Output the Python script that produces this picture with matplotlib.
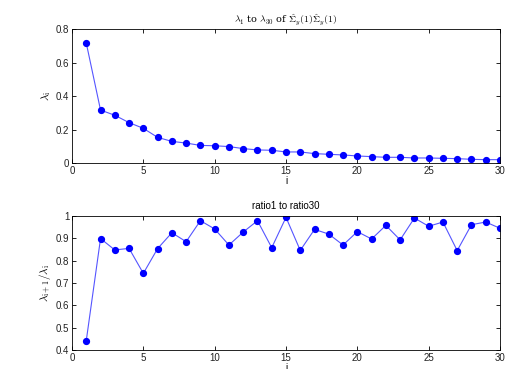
import matplotlib
matplotlib.use("Agg")
import matplotlib.pyplot as plt

idx = list(range(1, 31))
lam = [0.716, 0.316, 0.285, 0.241, 0.207, 0.153, 0.129, 0.119, 0.105, 0.103,
       0.098, 0.086, 0.078, 0.076, 0.066, 0.066, 0.056, 0.052, 0.048, 0.042,
       0.038, 0.034, 0.034, 0.030, 0.030, 0.028, 0.026, 0.022, 0.020, 0.020]
ratio = [0.442, 0.899, 0.848, 0.855, 0.743, 0.854, 0.925, 0.885, 0.979, 0.942,
         0.870, 0.928, 0.979, 0.858, 0.994, 0.846, 0.940, 0.919, 0.870, 0.930,
         0.897, 0.958, 0.893, 0.991, 0.954, 0.973, 0.845, 0.961, 0.973, 0.945]

plt.rcParams['font.family'] = ['Liberation Sans', 'DejaVu Sans']
plt.rcParams['mathtext.fontset'] = 'cm'

fig = plt.figure(figsize=(5.27, 3.69), dpi=100)
W, H = 527, 369
ax1 = fig.add_axes([72/W, 1-163/H, (500-72)/W, (163-29)/H])
ax2 = fig.add_axes([72/W, 1-350/H, (500-72)/W, (350-216)/H])

def style(ax):
    ax.tick_params(direction='in', top=True, right=True, labelsize=7, length=3,
                   width=0.6, pad=2, labelcolor='#222222')
    for s in ax.spines.values():
        s.set_linewidth(0.6)
    ax.set_xlim(0, 30)
    ax.set_xticks(range(0, 31, 5))

ax1.plot(idx, lam, '-', color='#5555ff', lw=0.8)
ax1.plot(idx, lam, 'o', color='blue', ms=4.2, mec='blue')
style(ax1)
ax1.set_ylim(0, 0.8)
ax1.set_yticks([0, 0.2, 0.4, 0.6, 0.8])
ax1.set_yticklabels(['0', '0.2', '0.4', '0.6', '0.8'])
ax1.set_xlabel('i', fontsize=7, labelpad=0)
ax1.set_ylabel(r'$\lambda_{\mathrm{i}}$', fontsize=8, labelpad=2)
ax1.set_title(r'$\lambda_1$ to $\lambda_{30}$ of $\hat{\Sigma}_y(1)\hat{\Sigma}_y(1)$',
              fontsize=7, family='serif', pad=5)

ax2.plot(idx, ratio, '-', color='#5555ff', lw=0.8)
ax2.plot(idx, ratio, 'o', color='blue', ms=4.2, mec='blue')
style(ax2)
ax2.set_ylim(0.4, 1)
ax2.set_yticks([0.4, 0.5, 0.6, 0.7, 0.8, 0.9, 1.0])
ax2.set_yticklabels(['0.4', '0.5', '0.6', '0.7', '0.8', '0.9', '1'])
ax2.set_xlabel('i', fontsize=7, labelpad=0)
ax2.set_ylabel(r'$\lambda_{\mathrm{i+1}}/\lambda_{\mathrm{i}}$', fontsize=8, labelpad=2)
ax2.set_title('ratio1 to ratio30', fontsize=7, pad=5)

fig.savefig('out.png', dpi=100)
